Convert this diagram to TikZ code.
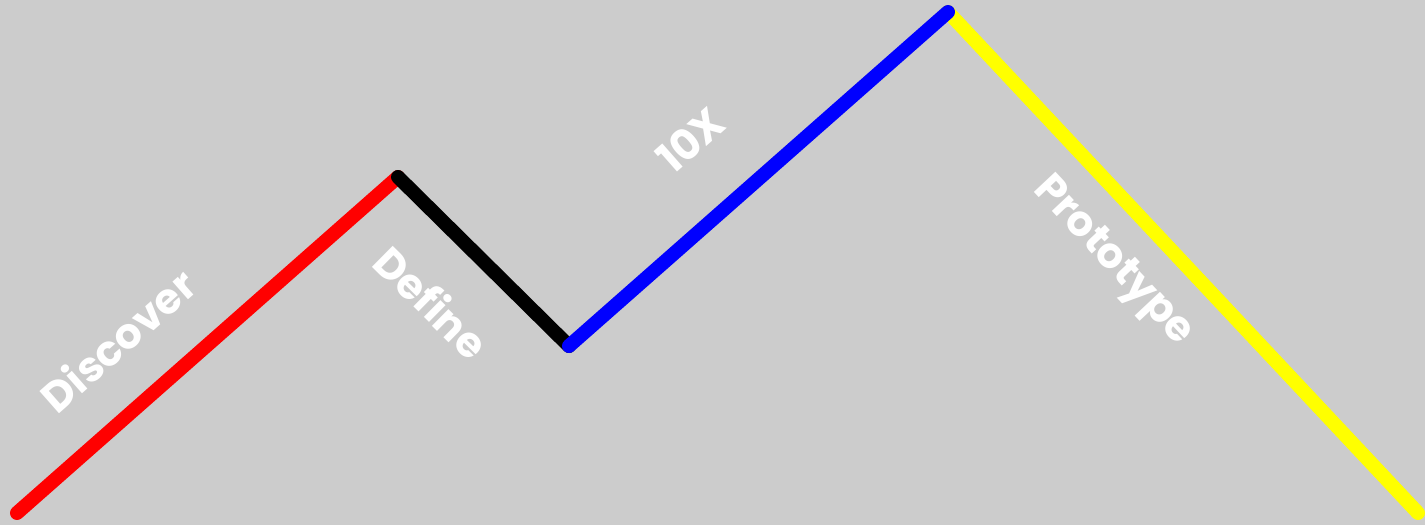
\documentclass[tikz,border=0pt]{standalone}
\usepackage{fontspec}
\setmainfont{Poppins}
\usetikzlibrary{positioning}
\definecolor{bggray}{HTML}{CCCCCC}
\definecolor{legyellow}{HTML}{FFFF00}

\begin{document}
\begin{tikzpicture}[
        leg/.style={line width=0.28cm, line cap=round},
        phase/.style={sloped, anchor=center, text=white, inner sep=0pt, font=\fontsize{24}{28}\selectfont\bfseries}
    ]
        % Canvas
        \fill[bggray] (0,0) rectangle (28.5,10.5);
        \useasboundingbox (0,0) rectangle (28.5,10.5);

        % Turning points
        \coordinate (start) at (0.34,0.24);
        \coordinate (peakA) at (7.96,6.96);
        \coordinate (dip) at (11.38,3.58);
        \coordinate (peakB) at (18.96,10.26);
        \coordinate (finish) at (28.36,0.24);

        % Zig-zag legs
        \draw[leg, red] (start) -- node[phase, pos=0.374, yshift=1.26cm] {Discover} (peakA);
        \draw[leg, black] (peakA) -- node[phase, pos=0.466, yshift=-1.30cm] {Define} (dip);
        \draw[leg, legyellow] (peakB) -- node[phase, pos=0.429, yshift=-1.03cm] {Prototype} (finish);
        \draw[leg, blue] (dip) -- node[phase, pos=0.45, yshift=1.49cm] {10X} (peakB);
    \end{tikzpicture}
\end{document}
